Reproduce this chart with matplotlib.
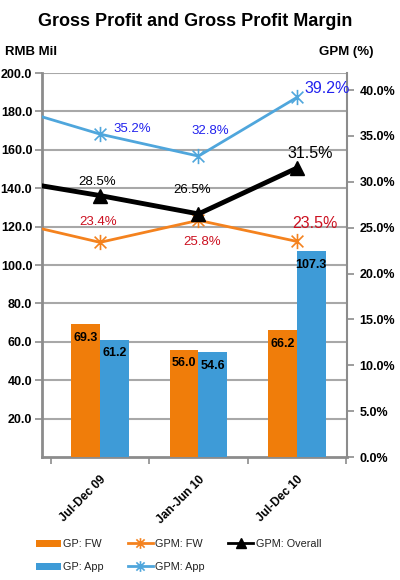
import matplotlib
matplotlib.use("Agg")
import matplotlib.pyplot as plt
from matplotlib.path import Path
import numpy as np

plt.rcParams['font.family'] = ['Liberation Sans', 'DejaVu Sans']

# ---- data ----
periods = ["Jul-Dec 09", "Jan-Jun 10", "Jul-Dec 10"]
gp_fw = [69.3, 56.0, 66.2]
gp_app = [61.2, 54.6, 107.3]
gpm_fw = [23.4, 25.8, 23.5]
gpm_app = [35.2, 32.8, 39.2]
gpm_overall = [28.5, 26.5, 31.5]
# earlier period (cut off at the left edge of the chart), estimated
prior_gpm_fw = 25.9
prior_gpm_app = 38.4
prior_gpm_overall = 30.3
left_ticks = [20, 40, 60, 80, 100, 120, 140, 160, 180, 200]
right_ticks = [0, 5, 10, 15, 20, 25, 30, 35, 40]

c_bar_fw = "#F07D0A"
c_bar_app = "#3E9BD7"
c_line_fw = "#F4821E"
c_line_app = "#4FA6DC"
c_lab_fw = "#CC1020"
c_lab_app = "#2222EE"
grid_c = "#A8A8A8"
spine_c = "#8C8C8C"

fig = plt.figure(figsize=(4, 5.8), dpi=100)
ax = fig.add_axes([0.105, 0.212, 0.7625, 0.662])
ax2 = ax.twinx()

x = np.arange(len(periods))
w = 0.29
b1 = ax.bar(x - w / 2, gp_fw, w, color=c_bar_fw, zorder=3, label="GP: FW")
b2 = ax.bar(x + w / 2, gp_app, w, color=c_bar_app, zorder=3, label="GP: App")
for bars, vals in ((b1, gp_fw), (b2, gp_app)):
    for r, v in zip(bars, vals):
        ax.annotate(f"{v:.1f}", (r.get_x() + r.get_width() / 2, v),
                    xytext=(0, -10), textcoords="offset points",
                    ha="center", va="center", fontsize=9, fontweight="bold",
                    color="black", zorder=5)

ax.set_ylim(0, 200)
ax.set_xlim(-0.589, 2.508)
ax.set_yticks(left_ticks)
ax.set_yticklabels([f"{t:.1f}" for t in left_ticks], fontsize=9, fontweight="bold")
ax.yaxis.grid(True, color=grid_c, lw=1.5, zorder=0)
ax.set_axisbelow(True)

ax.set_xticks([-0.5, 0.5, 1.5, 2.5])
ax.set_xticklabels([])
ax.set_xticks(x, minor=True)
ax.set_xticklabels(periods, minor=True, rotation=45, ha="right",
                   rotation_mode="anchor", fontsize=8.6, fontweight="bold")
ax.tick_params(axis="x", which="minor", length=0, pad=12)
ax.tick_params(axis="x", which="major", length=5, color=spine_c, width=1.2)
ax.tick_params(axis="y", length=5, color=spine_c, width=1.2, pad=2)

for s in ["left", "bottom"]:
    ax.spines[s].set_color(spine_c)
    ax.spines[s].set_linewidth(2)
ax.spines["top"].set_visible(False)
ax.spines["right"].set_visible(False)
ax2.spines["top"].set_visible(False)
ax2.spines["left"].set_visible(False)
ax2.spines["bottom"].set_visible(False)
ax2.spines["right"].set_color(spine_c)
ax2.spines["right"].set_linewidth(1.5)

# star marker: X with a vertical line
star = Path([(-1, -1), (1, 1), (-1, 1), (1, -1), (0, -1.3), (0, 1.3)],
            [Path.MOVETO, Path.LINETO, Path.MOVETO, Path.LINETO, Path.MOVETO, Path.LINETO])

xl = np.arange(-1, len(periods))
l_fw, = ax2.plot(xl, [prior_gpm_fw] + gpm_fw, color=c_line_fw, lw=2,
                 marker=star, markersize=11, markeredgewidth=1.2,
                 markevery=[1, 2, 3], label="GPM: FW", zorder=4)
l_app, = ax2.plot(xl, [prior_gpm_app] + gpm_app, color=c_line_app, lw=2,
                  marker=star, markersize=11, markeredgewidth=1.2,
                  markevery=[1, 2, 3], label="GPM: App", zorder=4)
l_ov, = ax2.plot(xl, [prior_gpm_overall] + gpm_overall, color="black", lw=3.5,
                 marker="^", markersize=10, markevery=[1, 2, 3],
                 label="GPM: Overall", zorder=5)

ax2.set_ylim(0, 41.85)
ax2.set_yticks(right_ticks)
ax2.set_yticklabels([f"{t:.1f}%" for t in right_ticks], fontsize=9, fontweight="bold")
ax2.tick_params(axis="y", length=5, color=spine_c, width=1.2, pad=4)
ax2.set_xlim(ax.get_xlim())

def lab(xi, v, dx, dy, color, size):
    ax2.annotate(f"{v:.1f}%", (xi, v), xytext=(dx * 0.72, dy * 0.72),
                 textcoords="offset points", ha="center", va="center",
                 fontsize=size, color=color, zorder=6)

app_off = [(32, 5, 9.5), (11.5, 25, 9.5), (30, 9, 11.5)]
fw_off = [(-2, 20, 9.5), (4, -22, 9.5), (17.5, 18, 11.5)]
ov_off = [(-3, 14, 9.5), (-6, 24, 9.5), (13.5, 15, 11.5)]
for i in range(3):
    lab(i, gpm_app[i], app_off[i][0], app_off[i][1], c_lab_app, app_off[i][2])
    lab(i, gpm_fw[i], fw_off[i][0], fw_off[i][1], c_lab_fw, fw_off[i][2])
    lab(i, gpm_overall[i], ov_off[i][0], ov_off[i][1], "black", ov_off[i][2])

fig.text(0.4875, 0.963, "Gross Profit and Gross Profit Margin", ha="center",
         va="center", fontsize=13, fontweight="bold")
fig.text(0.0125, 0.91, "RMB Mil", ha="left", va="center", fontsize=9.5, fontweight="bold")
fig.text(0.933, 0.91, "GPM (%)", ha="right", va="center", fontsize=9.5, fontweight="bold")

handles = [b1, b2, l_fw, l_app, l_ov]
leg = fig.legend(handles, [h.get_label() for h in handles], ncol=3,
                 loc="upper left", bbox_to_anchor=(0.08, 0.078),
                 frameon=False, fontsize=7.8, handlelength=2.3,
                 handletextpad=0.2, columnspacing=2.2, labelspacing=1.2,
                 handleheight=0.6, borderaxespad=0, markerscale=0.7)
for t in leg.get_texts():
    t.set_color("#222222")
for h in leg.legend_handles[2:]:
    h.set_linewidth(2)

fig.savefig("out.png", dpi=100)
